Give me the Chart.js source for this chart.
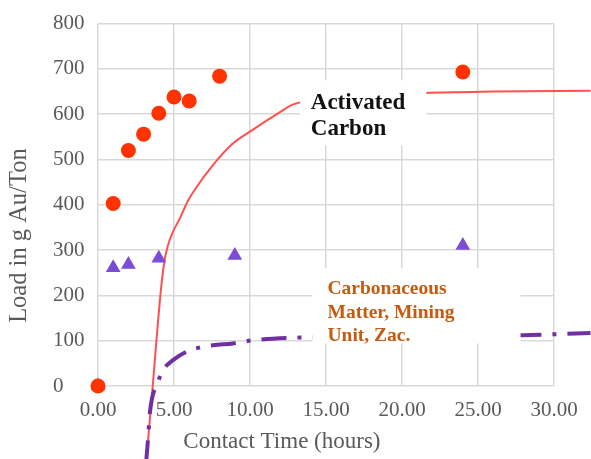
<!DOCTYPE html>
<html>
<head>
<meta charset="utf-8">
<script src="https://cdn.jsdelivr.net/npm/chart.js@4"></script>
<style>
  html, body { margin: 0; padding: 0; background: #fff; }
  #wrap { width: 591px; height: 459px; }
</style>
</head>
<body>
<div id="wrap"><canvas id="loadChart" width="591" height="459"></canvas></div>
<script>
        // measured points (contact time in hours, load in g Au/Ton)
        const carbonTime = [0, 1, 2, 3, 4, 5, 6, 8, 24];
        const carbonLoad = [0, 403, 520, 556, 602, 638, 629, 684, 693];

        const matterTime = [0, 1, 2, 4, 9, 24];
        const matterLoad = [0, 261, 268, 282, 288, 310];

        // fitted curves
        const carbonFitTime = [3.15, 3.6, 3.9, 4.2, 4.4, 4.6, 4.9, 5.4, 5.9, 6.3, 7.6, 8.8, 10.2, 12.0, 12.8, 15.0, 18.0, 21.5, 26.0, 32.4];
        const carbonFitLoad = [-175, 0, 123, 232, 281, 310, 338, 371, 408, 430, 489, 533, 566, 605, 621, 633, 641, 647, 650, 652];

        const matterFitTime = [3.15, 3.29, 3.42, 3.95, 4.28, 4.93, 6.05, 6.71, 7.57, 8.88, 10.2, 13.3, 18.0, 24.0, 27.9, 32.4];
        const matterFitLoad = [-175, -118, -57, 9, 35, 57, 79, 85, 90, 94, 101, 107, 109, 110, 112, 117];

        const xTicks = [0, 5, 10, 15, 20, 25, 30];
        const yTicks = [0, 100, 200, 300, 400, 500, 600, 700, 800];

        function toPoints(xs, ys) {
            return xs.map((x, i) => ({ x: x, y: ys[i] }));
        }

        const serif = "'Liberation Serif', 'Times New Roman', serif";

        // text boxes drawn over the curves, positioned in data units
        const noteBoxes = [
            { x1: 13.3, x2: 21.6, y1: 675, y2: 531, tx: 14.0, ty: 612, lines: ['Activated', 'Carbon'],
              color: '#111111', size: 23, lineH: 26 },
            { x1: 14.1, x2: 27.8, y1: 260, y2: 94, tx: 15.1, ty: 203, lines: ['Carbonaceous', 'Matter, Mining', 'Unit, Zac.'],
              color: '#C55A11', size: 19.5, lineH: 23.5 }
        ];

        const notesPlugin = {
            id: 'notes',
            afterDatasetsDraw(chart) {
                const c = chart.ctx;
                const xs = chart.scales.x, ys = chart.scales.y;
                c.save();
                noteBoxes.forEach(b => {
                    const l = xs.getPixelForValue(b.x1), r = xs.getPixelForValue(b.x2);
                    const t = ys.getPixelForValue(b.y1), bt = ys.getPixelForValue(b.y2);
                    c.fillStyle = '#ffffff';
                    c.fillRect(l, t, r - l, bt - t);
                    c.fillStyle = b.color;
                    c.font = 'bold ' + b.size + 'px ' + serif;
                    c.textBaseline = 'alphabetic';
                    c.textAlign = 'left';
                    const tx = xs.getPixelForValue(b.tx), ty = ys.getPixelForValue(b.ty);
                    b.lines.forEach((s, i) => c.fillText(s, tx, ty + i * b.lineH));
                });
                c.restore();
            },
            afterDraw(chart) {
                // axis titles, offset the way the original has them
                const c = chart.ctx;
                const xs = chart.scales.x, ys = chart.scales.y;
                c.save();
                c.fillStyle = '#595959';
                c.textAlign = 'center';
                c.textBaseline = 'alphabetic';
                c.font = '23px ' + serif;
                c.fillText('Contact Time (hours)', xs.getPixelForValue(12.1), chart.chartArea.bottom + 62);
                c.font = '24.5px ' + serif;
                c.translate(26, ys.getPixelForValue(332));
                c.rotate(-Math.PI / 2);
                c.fillText('Load in g Au/Ton', 0, 0);
                c.restore();
            }
        };

        const ctx = document.getElementById('loadChart').getContext('2d');

        const chartInstance = new Chart(ctx, {
            type: 'scatter',
            data: {
                datasets: [
                    {
                        label: 'Activated Carbon',
                        data: toPoints(carbonTime, carbonLoad),
                        backgroundColor: '#FF3300',
                        borderColor: '#FF3300',
                        pointRadius: 7.5,
                        pointBorderWidth: 0,
                        pointHoverRadius: 7.5,
                        clip: false
                    },
                    {
                        label: 'Carbonaceous Matter',
                        data: toPoints(matterTime, matterLoad),
                        backgroundColor: '#7B4DD6',
                        borderColor: '#7B4DD6',
                        pointStyle: 'triangle',
                        pointRadius: 8.5,
                        pointBorderWidth: 0,
                        pointHoverRadius: 8.5,
                        clip: false
                    },
                    {
                        label: 'Carbonaceous fit',
                        data: toPoints(matterFitTime, matterFitLoad),
                        showLine: true,
                        borderColor: '#7030A0',
                        borderWidth: 4,
                        borderDash: [25, 11, 4, 11],
                        pointRadius: 0,
                        cubicInterpolationMode: 'monotone',
                        clip: false
                    },
                    {
                        label: 'Activated Carbon fit',
                        data: toPoints(carbonFitTime, carbonFitLoad),
                        showLine: true,
                        borderColor: '#FF5050',
                        borderWidth: 2,
                        pointRadius: 0,
                        cubicInterpolationMode: 'monotone',
                        clip: false
                    }
                ]
            },
            options: {
                responsive: false,
                animation: false,
                layout: { padding: { top: 20, right: 37, left: 53, bottom: 0 } },
                plugins: {
                    legend: { display: false },
                    tooltip: { enabled: false }
                },
                scales: {
                    x: {
                        type: 'linear',
                        min: 0,
                        max: 30,
                        afterFit: s => { s.height = 73; },
                        afterBuildTicks: s => { s.ticks = xTicks.map(v => ({ value: v })); },
                        ticks: {
                            padding: 12,
                            color: '#595959',
                            font: { family: serif, size: 21 },
                            callback: v => Number(v).toFixed(2)
                        },
                        grid: { color: '#d9d9d9', lineWidth: 1.5, drawTicks: false },
                        border: { display: false }
                    },
                    y: {
                        type: 'linear',
                        min: 0,
                        max: 800,
                        afterFit: s => { s.width = 45; },
                        afterBuildTicks: s => { s.ticks = yTicks.map(v => ({ value: v })); },
                        ticks: {
                            padding: 11,
                            crossAlign: 'far',
                            color: '#595959',
                            font: { family: serif, size: 21 }
                        },
                        grid: { color: '#d9d9d9', lineWidth: 1.5, drawTicks: false },
                        border: { display: false }
                    }
                }
            },
            plugins: [notesPlugin]
        });
</script>
</body>
</html>
